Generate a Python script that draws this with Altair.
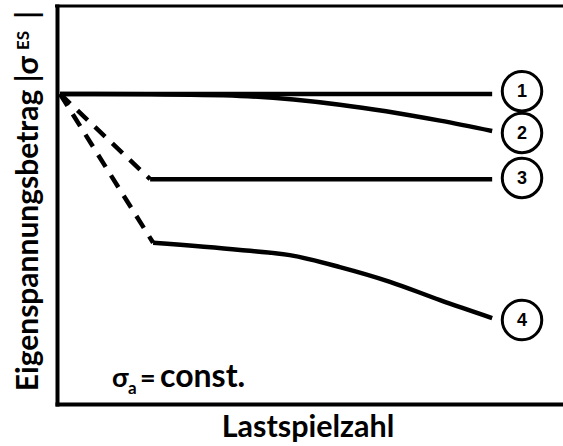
import altair as alt
import pandas as pd

# Schematic curves: residual stress magnitude vs. number of load cycles
# (x: 0..100 load-cycle units, y: 0..100 stress units)
curve_ids = ["1", "2", "3", "4"]

c1_x = [0.6, 86.0]
c1_y = [77.9, 77.9]

c2_x = [0.6, 18.4, 36.2, 55.9, 75.7, 86.0]
c2_y = [77.9, 77.8, 77.4, 75.2, 71.2, 68.6]

c3_dash_x = [0.6, 18.4]
c3_dash_y = [77.9, 56.5]
c3_x = [18.4, 86.0]
c3_y = [56.5, 56.5]

c4_dash_x = [0.6, 19.0]
c4_dash_y = [77.9, 40.5]
c4_x = [19.0, 36.2, 46.0, 55.9, 65.8, 75.7, 86.0]
c4_y = [40.5, 38.7, 37.4, 34.4, 30.7, 26.1, 21.6]

# Circled curve numbers at the right end
badge_x = [91.9, 91.9, 91.9, 91.9]
badge_y = [78.6, 68.1, 56.8, 21.1]

solid = pd.concat([
    pd.DataFrame({"x": c1_x, "y": c1_y, "curve": "1"}),
    pd.DataFrame({"x": c2_x, "y": c2_y, "curve": "2"}),
    pd.DataFrame({"x": c3_x, "y": c3_y, "curve": "3"}),
    pd.DataFrame({"x": c4_x, "y": c4_y, "curve": "4"}),
])
dashed = pd.concat([
    pd.DataFrame({"x": c3_dash_x, "y": c3_dash_y, "curve": "3"}),
    pd.DataFrame({"x": c4_dash_x, "y": c4_dash_y, "curve": "4"}),
])
badges = pd.DataFrame({"x": badge_x, "y": badge_y, "label": curve_ids})

W, H = 506, 398
TITLE_FONT = "Lato"

xs = alt.Scale(domain=[0, 100], nice=False, zero=False)
ys = alt.Scale(domain=[0, 100], nice=False, zero=False)

x_axis = alt.Axis(labels=False, ticks=False, grid=False, title=None,
                  domainColor="black", domainWidth=4, domainCap="square")
y_axis = alt.Axis(labels=False, ticks=False, grid=False, title=None,
                  domainColor="black", domainWidth=4, domainCap="square")

solid_lines = alt.Chart(solid).mark_line(
    color="black", strokeWidth=4.5, interpolate="monotone", strokeCap="butt"
).encode(
    x=alt.X("x:Q", scale=xs, axis=x_axis),
    y=alt.Y("y:Q", scale=ys, axis=y_axis),
    detail="curve:N",
)

dashed_lines = alt.Chart(dashed).mark_line(
    color="black", strokeWidth=4.5, strokeDash=[14, 10], strokeCap="butt"
).encode(
    x=alt.X("x:Q", scale=xs),
    y=alt.Y("y:Q", scale=ys),
    detail="curve:N",
)

circles = alt.Chart(badges).mark_point(
    shape="circle", size=1560, filled=False, color="black", strokeWidth=3, opacity=1
).encode(
    x=alt.X("x:Q", scale=xs),
    y=alt.Y("y:Q", scale=ys),
)

circle_text = alt.Chart(badges).mark_text(
    font="Liberation Sans", fontWeight="bold", fontSize=18, color="black",
    baseline="middle", align="center", dy=1
).encode(
    x=alt.X("x:Q", scale=xs),
    y=alt.Y("y:Q", scale=ys),
    text="label:N",
)

# Top frame line
top_line = alt.Chart(pd.DataFrame({"k": [0]})).mark_rule(
    color="black", strokeWidth=3
).encode(x=alt.value(-2), x2=alt.value(W), y=alt.value(0))

def label(text, x, y, size, align="left", angle=0, baseline="alphabetic"):
    kw = dict(text=text, font=TITLE_FONT, fontWeight="bold", fontSize=size,
              color="black", align=align, baseline=baseline)
    if angle:
        kw["angle"] = angle
    return alt.Chart(pd.DataFrame({"k": [0]})).mark_text(**kw).encode(
        x=alt.value(x), y=alt.value(y)
    )

texts = [
    # y-axis title
    label("Eigenspannungsbetrag |σ", -19, 50, 30, align="right", angle=270),
    label("ES", -28, 25, 17, align="right", angle=270),
    label("|", -19, 5, 30, align="right", angle=270),
    # x-axis title
    label("Lastspielzahl", 251, 431, 30.5, align="center"),
    # annotation
    label("σ", 55, 381, 27),
    label("a", 71, 388, 17),
    label("=", 83, 381, 27),
    label("const.", 103, 381, 32),
]

chart = alt.layer(solid_lines, dashed_lines, circles, circle_text, top_line, *texts).properties(
    width=W, height=H,
    autosize=alt.AutoSizeParams(type="none"),
    padding={"left": 57, "top": 6, "right": 0, "bottom": 42},
).configure_view(stroke=None).configure(background="white")

chart.save("out.html", embed_options={"renderer": "svg", "actions": False})
